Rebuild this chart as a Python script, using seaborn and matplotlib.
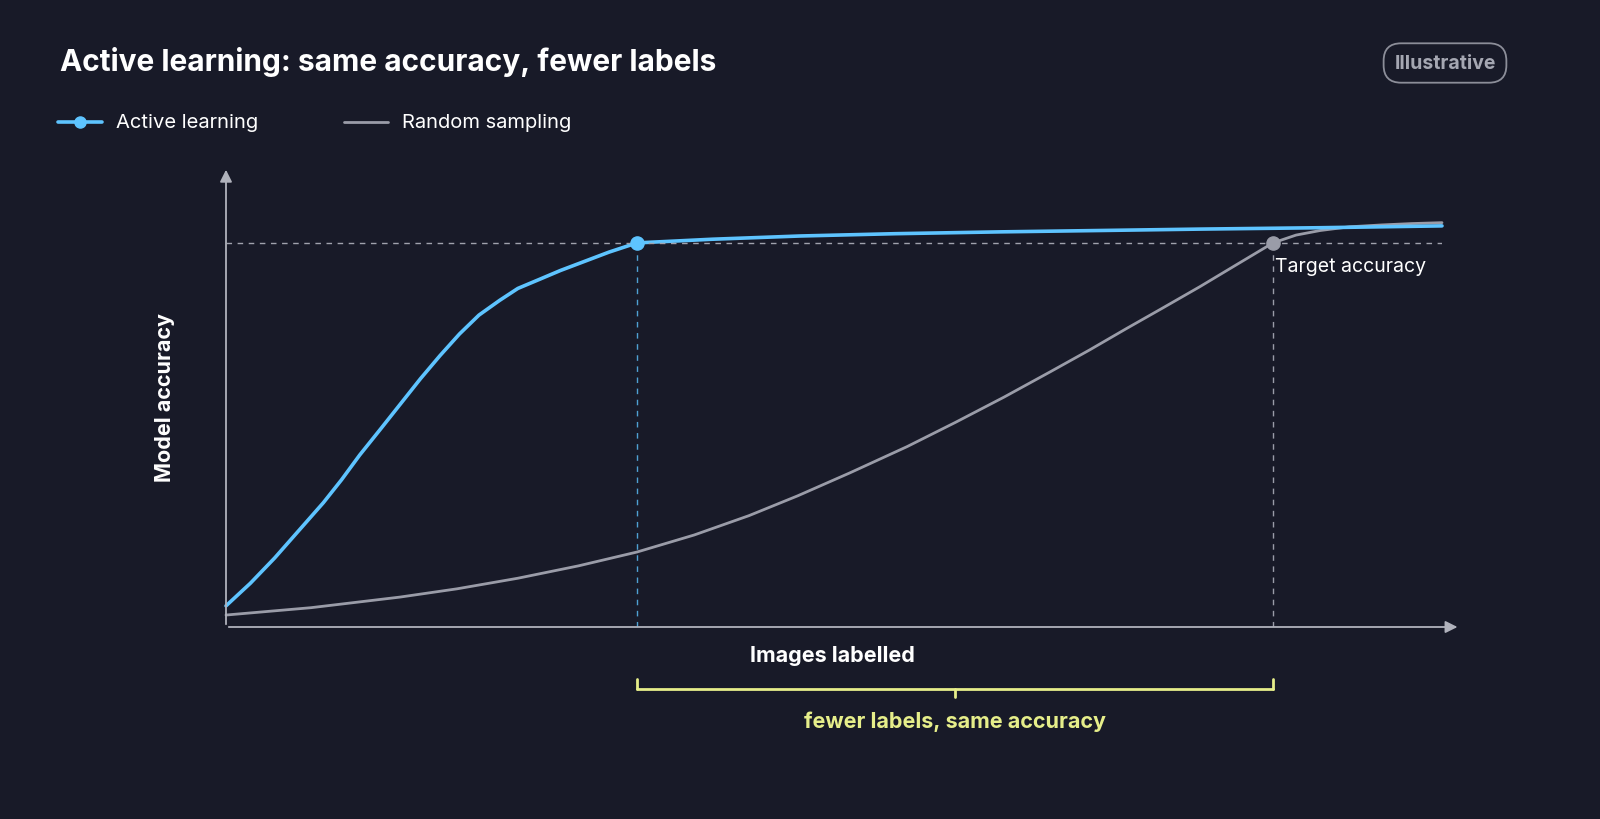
import matplotlib
matplotlib.use("Agg")
import matplotlib.pyplot as plt
import seaborn as sns
import pandas as pd

sns.set_theme(style="white")
plt.rcParams['font.family'] = ['Inter', 'DejaVu Sans']

active_x = [0, 2, 4, 6.1, 8, 9.5, 11, 12.7, 14.5, 16, 17.6, 19.2, 20.8, 22.5, 24, 25.8, 27.5, 29.5, 31.5, 33.8, 40, 47.2, 55, 63.7, 72, 80.1, 90, 100]
active_y = [4.6, 9.5, 15, 21.3, 27, 32, 37.4, 43.0, 49, 54, 59, 63.7, 67.8, 71, 73.6, 75.6, 77.5, 79.5, 81.5, 83.5, 84.3, 85.0, 85.5, 85.9, 86.2, 86.5, 86.8, 87.2]
random_x = [0, 7, 14.3, 19, 24, 29, 33.8, 38.5, 43, 47, 51.3, 56, 60, 64, 67.8, 71, 74, 77, 80.1, 83, 86.1, 88, 90, 92.4, 95, 97.5, 100]
random_y = [2.6, 4.2, 6.5, 8.3, 10.6, 13.3, 16.3, 20, 24.2, 28.5, 33.5, 39.2, 44.5, 50, 55.5, 60.2, 64.8, 69.3, 74, 78.6, 83.5, 85.2, 86.2, 87.0, 87.4, 87.7, 87.9]
target_y = 83.5
active_hit_x = 33.8
random_hit_x = 86.1

BG = '#181a28'
BLUE = '#5ec4ff'
GRAY = '#9a9ca8'
YEL = '#e6ee8a'

fig = plt.figure(figsize=(16, 8.2), dpi=100, facecolor=BG)
ax = fig.add_axes([226/1600, 192/820, 1216/1600, 460/820])
ax.set_facecolor(BG)
ax.set_xlim(0, 100); ax.set_ylim(0, 100)
for s in ax.spines.values(): s.set_visible(False)
ax.set_xticks([]); ax.set_yticks([])

df_a = pd.DataFrame({'x': active_x, 'y': active_y})
df_r = pd.DataFrame({'x': random_x, 'y': random_y})
sns.lineplot(data=df_r, x='x', y='y', ax=ax, color=GRAY, lw=2, clip_on=False)
sns.lineplot(data=df_a, x='x', y='y', ax=ax, color=BLUE, lw=2.6, clip_on=False)
ax.set_xlabel(''); ax.set_ylabel('')

ax.plot([0, 100], [target_y, target_y], ls=(0, (4, 4)), color='#a0a2ad', lw=1)
ax.plot([active_hit_x]*2, [0, target_y], ls=(0, (4, 4)), color=BLUE, lw=1, alpha=0.8)
ax.plot([random_hit_x]*2, [0, target_y], ls=(0, (4, 4)), color=GRAY, lw=1)
ax.scatter([active_hit_x], [target_y], s=90, color=BLUE, zorder=5)
ax.scatter([random_hit_x], [target_y], s=90, color=GRAY, zorder=5)
ax.text(92.5, 78.5, 'Target accuracy', color='white', fontsize=14, ha='center', va='center')

ax.annotate('', xy=(101.5, 0), xytext=(0, 0), annotation_clip=False,
            arrowprops=dict(arrowstyle='-|>', color='#b0b2bc', lw=1.3, mutation_scale=18))
ax.annotate('', xy=(0, 100), xytext=(0, 0), annotation_clip=False,
            arrowprops=dict(arrowstyle='-|>', color='#b0b2bc', lw=1.3, mutation_scale=18))

fig.text(165/1600, 1-398/820, 'Model accuracy', rotation=90, color='white', fontsize=15.5,
         fontweight='bold', ha='center', va='center')
fig.text(832/1600, 1-656/820, 'Images labelled', color='white', fontsize=15.5,
         fontweight='bold', ha='center', va='center')

y_b = 1-690/820
fig.add_artist(plt.Line2D([637/1600, 1273/1600], [y_b, y_b], color=YEL, lw=2))
for xx in (637, 1273):
    fig.add_artist(plt.Line2D([xx/1600]*2, [y_b, 1-680/820], color=YEL, lw=2))
fig.add_artist(plt.Line2D([955/1600]*2, [y_b, 1-698/820], color=YEL, lw=2))
fig.text(955/1600, 1-722/820, 'fewer labels, same accuracy', color=YEL, fontsize=15.5,
         fontweight='bold', ha='center', va='center')

fig.text(60/1600, 1-62/820, 'Active learning: same accuracy, fewer labels', color='white',
         fontsize=21.5, fontweight='bold', ha='left', va='center')
fig.text(1445/1600, 1-64/820, 'Illustrative', color='#a5a7b2', fontsize=14,
         fontweight='bold', ha='center', va='center',
         bbox=dict(boxstyle='round,pad=0.55,rounding_size=0.9', fc='none', ec='#8c8e99', lw=1.3))

yl = 1-123/820
fig.add_artist(plt.Line2D([58/1600, 102/1600], [yl, yl], color=BLUE, lw=2.6))
fig.add_artist(plt.Line2D([80/1600], [yl], marker='o', color=BLUE, markersize=8))
fig.text(116/1600, yl, 'Active learning', color='white', fontsize=14.5, va='center')
fig.add_artist(plt.Line2D([344/1600, 388/1600], [yl, yl], color=GRAY, lw=2))
fig.text(402/1600, yl, 'Random sampling', color='white', fontsize=14.5, va='center')

fig.savefig('out.png', dpi=100, facecolor=BG)
